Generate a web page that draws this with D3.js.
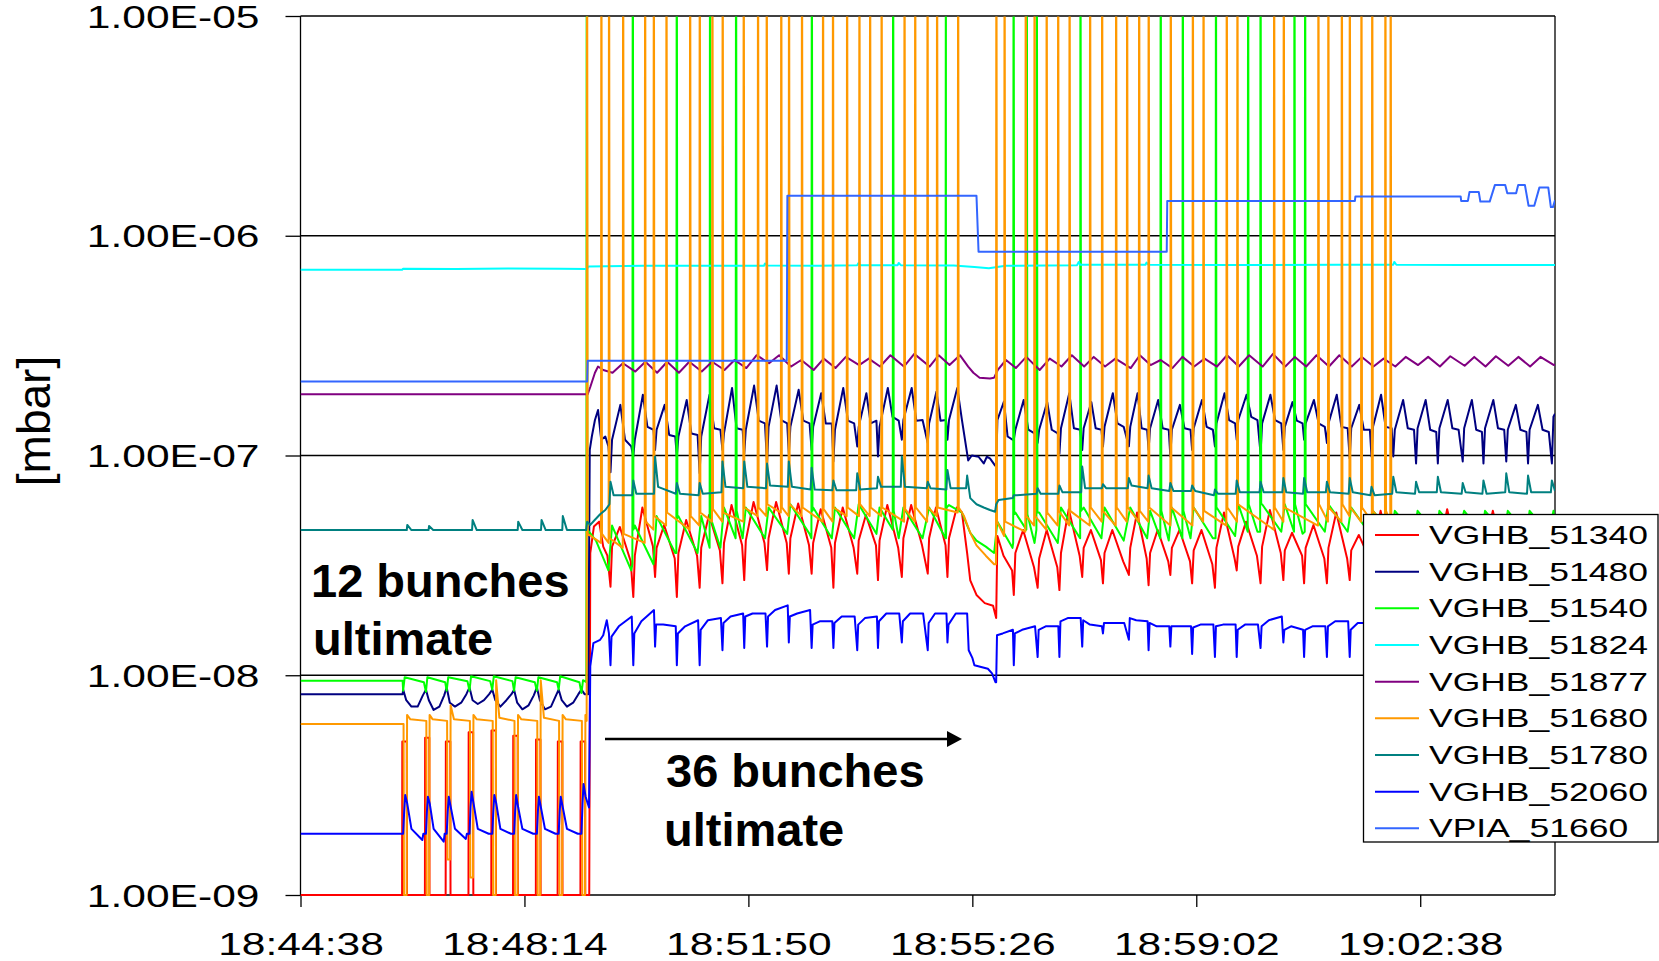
<!DOCTYPE html>
<html><head><meta charset="utf-8">
<script src="https://cdn.jsdelivr.net/npm/d3@7"></script>
<style>
html,body{margin:0;padding:0;background:#fff;}
svg{display:block;}
text{font-family:"Liberation Sans", Arial, Helvetica, sans-serif;fill:#000;}
</style></head><body>
<svg id="chart" width="1659" height="961"></svg>
<script>
// ================= DATA =================
const seriesNames  = ["VGHB_51340","VGHB_51480","VGHB_51540","VGHB_51824","VGHB_51877","VGHB_51680","VGHB_51780","VGHB_52060","VPIA_51660"];
const seriesColors = ["#ff0000","#000080","#00ff00","#00ffff","#800080","#ff9900","#008080","#0000ff","#3366ff"];
const yTickValues  = [1e-9, 1e-8, 1e-7, 1e-6, 1e-5];
const yTickLabels  = ["1.00E-09","1.00E-08","1.00E-07","1.00E-06","1.00E-05"];
const startClock   = "18:44:38";
const endClock     = "19:04:48";
const xTickLabels  = ["18:44:38","18:48:14","18:51:50","18:55:26","18:59:02","19:02:38"];
const yTitle = "[mbar]";
const notes = ["12 bunches","ultimate","36 bunches","ultimate"];
const FLOOR = 1e-9;      // gauge floor reading
const OFFSCALE = 1e-4;   // off-scale spike reading

// injection times (s after 18:44:38)
const inj12 = [99,121,141,163,185,206,228,249,271];
const inj36 = [299,321,342,363,385,407,428,450,471,493,514,537,557,580,605,624,671,688,711,732,754,774,799,818,839,860,882,903,926,948,968,990,1012,1033,1054,1076,1097,1121,1141,1163,1184,1207];

// shape timing inside one cycle (s after injection)
const OFF = {red12:[-1,-0.8,3.5,3.7], orange12:[0.4,0.8,3.4,3.8,7], green12:[0,1.5,20], navy12:[0,3,8,14,19],
  blue12:[0,1,2,4,8,18.5,19.5], red36:[0,1.5,9,19.5], navy36:[0,1.5,9.5,14,20], blue36:[0,1,8,20.5],
  teal36:[-1,0,3], purple36:[2,12], green36:[1.5,20]};

// ---- VGHB_51340 (red)
const red51340Start = [[0,1e-9]];
const red51340_12 = [[1e-9,5.0e-9,5.0e-9,1e-9],[1e-9,5.2e-9,5.2e-9,1e-9],[1e-9,5.0e-9,5.0e-9,1e-9],[1e-9,5.5e-9,5.5e-9,1e-9],[1e-9,5.6e-9,5.6e-9,1e-9],[1e-9,5.3e-9,5.3e-9,1e-9],[1e-9,5.1e-9,5.1e-9,1e-9],[1e-9,5.0e-9,5.0e-9,1e-9],[1e-9,5.0e-9,5.0e-9,1e-9]];
const red51340Trans = [[278.5,1e-9],[279.5,3.6e-8],[283,4.75e-8],[288,5.0e-8],[292,3.85e-8],[296,3.5e-8]];
const red51340_36 = [
 [2.53e-8,3.85e-8,4.73e-8,3.3e-8],[2.27e-8,3.5e-8,5.8e-8,3.85e-8],[2.8e-8,3.8e-8,4.83e-8,3.4e-8],[2.27e-8,3.6e-8,5.09e-8,3.5e-8],
 [2.5e-8,3.8e-8,5.36e-8,3.7e-8],[2.62e-8,4.0e-8,5.95e-8,3.9e-8],[2.71e-8,4.1e-8,6.15e-8,4.0e-8],[3.01e-8,4.2e-8,6.15e-8,4.0e-8],
 [2.9e-8,4.2e-8,6.05e-8,3.9e-8],[2.9e-8,4.0e-8,5.7e-8,3.8e-8],[2.5e-8,4.0e-8,5.8e-8,3.8e-8],[2.9e-8,4.1e-8,5.36e-8,3.9e-8],
 [2.71e-8,4.1e-8,5.95e-8,3.8e-8],[2.8e-8,4.2e-8,5.95e-8,3.9e-8],[2.9e-8,4.2e-8,5.8e-8,3.9e-8],[2.8e-8,4.2e-8,null,null],
 [1.82e-8,4.3e-8,3.5e-8,3.0e-8],[2.32e-8,3.6e-8,4.58e-8,3.1e-8],[2.5e-8,3.4e-8,4.58e-8,3.1e-8],[2.44e-8,3.6e-8,5.7e-8,3.5e-8],
 [2.8e-8,3.8e-8,4.58e-8,3.34e-8],[2.62e-8,3.6e-8,4.58e-8,3.3e-8],[2.86e-8,3.8e-8,5.5e-8,3.4e-8],[2.57e-8,3.6e-8,4.58e-8,3.3e-8],
 [2.86e-8,3.8e-8,4.58e-8,3.3e-8],[2.62e-8,3.7e-8,4.58e-8,3.2e-8],[2.5e-8,3.8e-8,5.5e-8,3.4e-8],[3.0e-8,3.85e-8,5.0e-8,3.5e-8],
 [2.62e-8,3.85e-8,5.65e-8,3.6e-8],[2.71e-8,3.7e-8,4.45e-8,3.5e-8],[2.62e-8,3.8e-8,4.83e-8,3.4e-8],[2.62e-8,3.8e-8,5.5e-8,3.4e-8],
 [2.71e-8,3.7e-8,4.35e-8,3.4e-8],[2.7e-8,3.8e-8,5.6e-8,3.5e-8],[2.6e-8,3.7e-8,4.9e-8,3.4e-8],[2.7e-8,3.8e-8,5.0e-8,3.5e-8],
 [2.6e-8,3.8e-8,5.7e-8,3.5e-8],[2.7e-8,3.7e-8,5.0e-8,3.4e-8],[2.6e-8,3.8e-8,5.6e-8,3.5e-8],[2.7e-8,3.7e-8,4.9e-8,3.4e-8],
 [2.6e-8,3.7e-8,4.8e-8,3.4e-8],[2.7e-8,3.7e-8,null,null]];
const red51340Gap = [[633,5.8e-8],[638,5.5e-8],[643,3.6e-8],[646,2.7e-8],[652,2.32e-8],[660,2.13e-8],[668,2.07e-8]];
const red51340End = [[1210,3.8e-8]];

// ---- VGHB_51480 (navy)
const navy51480Start = [[0,8.2e-9],[98.5,8.2e-9]];
const navy51480_12 = [[8.6e-9,7.7e-9,7.2e-9,7.2e-9,8.1e-9],[8.6e-9,7.7e-9,6.95e-9,7.2e-9,8.1e-9],[8.8e-9,7.5e-9,7.2e-9,7.5e-9,8.2e-9],
 [8.8e-9,7.7e-9,7.4e-9,7.7e-9,8.2e-9],[8.6e-9,7.7e-9,7.2e-9,7.7e-9,8.2e-9],[8.6e-9,7.5e-9,7.0e-9,7.3e-9,8.1e-9],
 [8.8e-9,7.7e-9,7.0e-9,7.2e-9,8.1e-9],[8.6e-9,7.7e-9,7.2e-9,7.5e-9,8.2e-9],[8.6e-9,8.2e-9,null,null,null]];
const navy51480Trans = [[277.5,8.2e-9],[279,1.06e-7],[281,1.22e-7],[284,1.45e-7],[287,1.61e-7],[290,1.18e-7],[294,1.22e-7],[297,1.10e-7]];
const navy51480_36 = [
 [8.4e-8,1.18e-7,1.70e-7,1.18e-7,1.10e-7],[9.9e-8,1.18e-7,1.89e-7,1.35e-7,1.31e-7],[1.06e-7,1.31e-7,1.70e-7,1.24e-7,1.22e-7],
 [9.9e-8,1.22e-7,1.79e-7,1.26e-7,1.24e-7],[8.3e-8,1.22e-7,1.89e-7,1.33e-7,1.31e-7],[1.06e-7,1.26e-7,2.03e-7,1.33e-7,1.31e-7],
 [1.02e-7,1.31e-7,2.08e-7,1.44e-7,1.40e-7],[9.2e-8,1.35e-7,2.08e-7,1.45e-7,1.40e-7],[1.02e-7,1.35e-7,1.99e-7,1.44e-7,1.40e-7],
 [1.06e-7,1.35e-7,1.92e-7,1.40e-7,1.40e-7],[9.4e-8,1.31e-7,2.03e-7,1.44e-7,1.40e-7],[1.10e-7,1.35e-7,1.92e-7,1.40e-7,1.44e-7],
 [9.9e-8,1.35e-7,2.03e-7,1.50e-7,1.44e-7],[1.18e-7,1.45e-7,2.03e-7,1.44e-7,1.45e-7],[1.14e-7,1.40e-7,1.95e-7,1.44e-7,1.45e-7],
 [1.18e-7,1.45e-7,2.03e-7,null,null],[8.9e-8,1.45e-7,1.76e-7,1.22e-7,1.18e-7],[1.18e-7,1.31e-7,1.79e-7,1.31e-7,1.26e-7],
 [1.14e-7,1.31e-7,1.75e-7,1.31e-7,1.26e-7],[1.02e-7,1.33e-7,1.92e-7,1.33e-7,1.31e-7],[1.06e-7,1.33e-7,1.75e-7,1.33e-7,1.31e-7],
 [1.10e-7,1.35e-7,1.92e-7,1.40e-7,1.35e-7],[1.10e-7,1.35e-7,1.92e-7,1.33e-7,1.31e-7],[1.06e-7,1.33e-7,1.79e-7,1.33e-7,1.31e-7],
 [9.9e-8,1.31e-7,1.70e-7,1.33e-7,1.31e-7],[1.06e-7,1.33e-7,1.79e-7,1.35e-7,1.31e-7],[1.10e-7,1.40e-7,1.92e-7,1.45e-7,1.40e-7],
 [1.18e-7,1.45e-7,1.89e-7,1.50e-7,1.45e-7],[1.02e-7,1.40e-7,1.89e-7,1.45e-7,1.40e-7],[1.06e-7,1.35e-7,1.75e-7,1.44e-7,1.40e-7],
 [1.18e-7,1.40e-7,1.79e-7,1.40e-7,1.35e-7],[1.14e-7,1.40e-7,1.89e-7,1.35e-7,1.33e-7],[9.7e-8,1.33e-7,1.70e-7,1.31e-7,1.31e-7],
 [9.9e-8,1.35e-7,1.89e-7,1.35e-7,1.33e-7],[9.9e-8,1.31e-7,1.79e-7,1.33e-7,1.31e-7],[9.2e-8,1.33e-7,1.79e-7,1.31e-7,1.28e-7],
 [9.2e-8,1.33e-7,1.79e-7,1.33e-7,1.31e-7],[9.4e-8,1.33e-7,1.79e-7,1.31e-7,1.28e-7],[9.2e-8,1.33e-7,1.79e-7,1.33e-7,1.31e-7],
 [9.4e-8,1.31e-7,1.70e-7,1.31e-7,1.28e-7],[9.2e-8,1.31e-7,1.70e-7,1.31e-7,1.28e-7],[9.2e-8,1.50e-7,null,null,null]];
const navy51480Gap = [[638,1.45e-7],[644,9.5e-8],[647.5,1.0e-7],[654,9.87e-8],[659,9.2e-8],[662,9.87e-8],[665,9.7e-8],[670,9.0e-8]];
const navy51480End = [[1210,1.55e-7]];

// ---- VGHB_51540 (green)
const green51540Start = [[0,9.45e-9],[98.5,9.45e-9]];
const green51540_12 = [[8.5e-9,9.8e-9,9.3e-9],[8.4e-9,9.8e-9,9.3e-9],[8.5e-9,9.8e-9,9.4e-9],[8.5e-9,9.9e-9,9.4e-9],[8.6e-9,9.9e-9,9.4e-9],
 [8.5e-9,9.8e-9,9.3e-9],[8.5e-9,9.8e-9,9.3e-9],[8.6e-9,9.9e-9,9.3e-9],[8.3e-9,9.5e-9,null]];
const green51540Trans = [[285,4.1e-8],[297,3.0e-8]];
const green51540_36 = [
 [4.8e-8,3.0e-8],[4.8e-8,3.2e-8],[5.3e-8,3.6e-8],[5.3e-8,3.6e-8],[5.3e-8,3.8e-8],[5.8e-8,4.2e-8],[5.8e-8,4.2e-8],[5.8e-8,4.4e-8],
 [6.0e-8,4.4e-8],[5.8e-8,4.2e-8],[5.8e-8,4.2e-8],[6.0e-8,4.4e-8],[5.8e-8,4.2e-8],[5.8e-8,4.2e-8],[5.8e-8,4.2e-8],[5.95e-8,null],
 [5.0e-8,3.8e-8],[5.5e-8,4.0e-8],[5.5e-8,4.0e-8],[5.8e-8,4.2e-8],[5.8e-8,4.2e-8],[5.8e-8,4.1e-8],[5.8e-8,4.2e-8],[5.6e-8,4.1e-8],
 [5.8e-8,4.2e-8],[5.8e-8,4.2e-8],[5.8e-8,4.3e-8],[6.0e-8,4.5e-8],[6.0e-8,4.5e-8],[6.0e-8,4.4e-8],[6.0e-8,4.5e-8],[6.0e-8,4.5e-8],
 [5.8e-8,4.4e-8],[5.6e-8,4.4e-8],[5.6e-8,4.4e-8],[5.6e-8,4.4e-8],[5.6e-8,4.4e-8],[5.6e-8,4.4e-8],[5.6e-8,4.4e-8],[5.6e-8,4.4e-8],
 [5.6e-8,4.4e-8],[5.6e-8,null]];
const green51540Spikes = [[276.1,9.3e-9,4.6e-8],[320.5,3.2e-8,4.6e-8],[362.9,3.6e-8,5.2e-8],[395,3.8e-8,5.2e-8],[420.1,4.2e-8,5.6e-8],
 [493.2,4.2e-8,5.6e-8],[571.6,4.6e-8,5.6e-8],[622.5,4.2e-8,5.8e-8],[687.8,4.0e-8,5.4e-8],[700.5,4.6e-8,5.4e-8],[710.2,4.6e-8,5.5e-8],
 [752.3,4.2e-8,5.6e-8],[829.7,4.2e-8,5.6e-8],[851,4.2e-8,5.6e-8],[883,4.2e-8,5.8e-8],[914,4.5e-8,6.0e-8],[926,4.5e-8,6.0e-8],
 [958.7,4.5e-8,6.0e-8],[969,4.5e-8,6.0e-8]];
const green51540Gap = [[638,5.5e-8],[646,4.45e-8],[652,4.1e-8],[661,3.85e-8],[669,3.6e-8]];
const green51540End = [[1210,4.5e-8]];

// ---- VGHB_51824 (cyan)
const cyan51824 = [[0,7.0e-7],[98,7.0e-7],[99,7.08e-7],[150,7.05e-7],[200,7.1e-7],[250,7.08e-7],[276,7.05e-7],[278,7.25e-7],[330,7.3e-7],
 [400,7.3e-7],[447,7.3e-7],[448,7.48e-7],[450,7.32e-7],[500,7.3e-7],[537,7.35e-7],[538,7.5e-7],[540,7.35e-7],[576,7.35e-7],[577,7.52e-7],
 [579,7.35e-7],[630,7.32e-7],[650,7.2e-7],[664,7.12e-7],[680,7.3e-7],[749,7.35e-7],[750.6,7.6e-7],[752,7.38e-7],[815,7.38e-7],[816,7.55e-7],
 [818,7.38e-7],[900,7.36e-7],[1000,7.38e-7],[1054,7.38e-7],[1055,7.6e-7],[1057,7.38e-7],[1120,7.36e-7],[1210,7.36e-7]];

// ---- VGHB_51877 (purple)
const purple51877Start = [[0,1.9e-7]];
const purple51877Trans = [[277,1.9e-7],[279.5,2.05e-7],[284,2.38e-7],[287,2.54e-7],[292,2.45e-7]];
const purple51877_36 = [
 [2.38e-7,2.63e-7],[2.41e-7,2.67e-7],[2.38e-7,2.67e-7],[2.38e-7,2.67e-7],[2.41e-7,2.67e-7],[2.45e-7,2.72e-7],[2.5e-7,2.86e-7],
 [2.63e-7,2.86e-7],[2.54e-7,2.72e-7],[2.45e-7,2.76e-7],[2.5e-7,2.81e-7],[2.58e-7,2.76e-7],[2.54e-7,2.86e-7],[2.54e-7,2.9e-7],
 [2.54e-7,2.86e-7],[2.58e-7,2.86e-7],[2.45e-7,2.72e-7],[2.5e-7,2.81e-7],[2.45e-7,2.76e-7],[2.54e-7,2.86e-7],[2.54e-7,2.81e-7],
 [2.54e-7,2.76e-7],[2.5e-7,2.86e-7],[2.58e-7,2.72e-7],[2.5e-7,2.81e-7],[2.54e-7,2.76e-7],[2.54e-7,2.86e-7],[2.54e-7,2.86e-7],
 [2.54e-7,2.9e-7],[2.54e-7,2.81e-7],[2.54e-7,2.86e-7],[2.54e-7,2.86e-7],[2.54e-7,2.81e-7],[2.54e-7,2.76e-7],[2.54e-7,2.81e-7],
 [2.58e-7,2.81e-7],[2.54e-7,2.83e-7],[2.56e-7,2.81e-7],[2.54e-7,2.83e-7],[2.56e-7,2.81e-7],[2.54e-7,2.81e-7],[2.58e-7,null]];
const purple51877Gap = [[644,2.54e-7],[649,2.38e-7],[655,2.26e-7],[665,2.24e-7],[669,2.26e-7]];
const purple51877End = [[1210,2.6e-7]];

// ---- VGHB_51680 (orange)
const orange51680Start = [[0,6.0e-9]];
const orange51680_12 = [[6.0e-9,1e-9,1e-9,6.6e-9,6.3e-9],[6.2e-9,1e-9,1e-9,6.6e-9,6.3e-9],[6.2e-9,1.45e-9,1.45e-9,7.3e-9,6.3e-9],
 [6.2e-9,1.2e-9,1.2e-9,6.6e-9,6.3e-9],[6.2e-9,1e-9,1e-9,9.5e-9,6.4e-9],[6.2e-9,1e-9,1e-9,6.6e-9,6.3e-9],
 [6.2e-9,1e-9,1e-9,9.5e-9,6.4e-9],[6.2e-9,1e-9,1e-9,6.6e-9,6.3e-9],[6.2e-9,1e-9,1e-9,6.6e-9,null]];
const orange51680Spikes = [[276.4,6.2e-9,4.4e-8],[290.2,4.0e-8,4.4e-8],[297.6,4.0e-8,4.2e-8],[311.2,3.8e-8,4.4e-8],[332.4,4.0e-8,5.0e-8],
 [340.8,4.6e-8,5.3e-8],[353.0,4.8e-8,5.5e-8],[375.8,4.6e-8,5.3e-8],[385.1,4.8e-8,5.5e-8],[397.3,5.0e-8,5.7e-8],[407.2,5.0e-8,5.5e-8],
 [427.5,5.0e-8,5.8e-8],[441.3,5.3e-8,5.8e-8],[449.7,5.3e-8,6.0e-8],[463.7,5.5e-8,5.8e-8],[471.2,5.3e-8,6.0e-8],[483.7,5.3e-8,5.8e-8],
 [504.0,5.0e-8,5.7e-8],[513.6,5.0e-8,5.8e-8],[527.2,5.3e-8,5.8e-8],[539.1,5.3e-8,6.0e-8],[549.4,5.3e-8,5.8e-8],[560.5,5.3e-8,5.8e-8],
 [582.6,5.0e-8,5.7e-8],[592.9,5.0e-8,5.8e-8],[604.8,5.0e-8,5.8e-8],[614.0,5.3e-8,5.8e-8],[634.3,5.5e-8,5.8e-8],[671.2,3.2e-8,5.0e-8],
 [679.1,4.3e-8,5.0e-8],[699.5,4.5e-8,5.3e-8],[708.0,4.8e-8,5.3e-8],[719.7,4.6e-8,5.5e-8],[730.8,4.8e-8,5.6e-8],[741.8,4.8e-8,5.6e-8],
 [761.6,4.8e-8,5.8e-8],[773.2,5.0e-8,5.6e-8],[786.7,4.8e-8,5.8e-8],[797.3,5.0e-8,5.8e-8],[808.9,5.0e-8,5.6e-8],[818.1,5.0e-8,5.8e-8],
 [839.4,4.8e-8,5.8e-8],[860.7,4.8e-8,5.8e-8],[871.0,5.0e-8,5.6e-8],[893.4,4.8e-8,5.8e-8],[903.7,5.0e-8,6.0e-8],[939.1,4.6e-8,5.8e-8],
 [948.4,5.0e-8,5.8e-8],[981.8,4.8e-8,6.0e-8],[991.4,5.0e-8,5.8e-8],[1004.4,5.0e-8,6.0e-8],[1012.1,5.3e-8,5.8e-8],[1023.3,5.0e-8,5.8e-8],
 [1033.7,5.0e-8,5.6e-8],[1046.4,4.8e-8,5.6e-8],[1051.5,5.0e-8,4.6e-8]];
const orange51680Gap = [[640,5.3e-8],[646,4.45e-8],[652,3.9e-8],[661,3.5e-8],[669,3.2e-8]];
const orange51680End = [[1210,4.5e-8]];

// ---- VGHB_51780 (teal)
const teal51780Base12 = 4.58e-8;
const teal51780Start = [[0,4.58e-8]];
const teal51780Bumps12 = [[103,4.83e-8],[124,4.78e-8],[166,5.09e-8],[210,5.0e-8],[232.5,5.09e-8],[253,5.3e-8]];
const teal51780Trans = [[275.5,4.58e-8],[276.5,5.0e-8],[279.5,4.83e-8],[284,5.1e-8],[289,5.4e-8],[294,5.65e-8]];
const teal51780_36 = [
 [6.0e-8,7.6e-8,6.6e-8],[6.6e-8,7.7e-8,6.7e-8],[6.7e-8,9.9e-8,7.2e-8],[6.7e-8,7.5e-8,6.7e-8],[6.6e-8,7.5e-8,6.7e-8],
 [6.8e-8,9.4e-8,7.2e-8],[7.1e-8,9.4e-8,7.2e-8],[7.1e-8,9.2e-8,7.3e-8],[7.2e-8,9.4e-8,7.2e-8],[7.0e-8,8.8e-8,7.0e-8],
 [6.95e-8,7.7e-8,6.95e-8],[6.95e-8,8.3e-8,7.0e-8],[7.1e-8,8.0e-8,7.2e-8],[7.2e-8,9.9e-8,7.2e-8],[7.1e-8,7.6e-8,7.1e-8],
 [7.0e-8,8.6e-8,7.1e-8],[5.55e-8,6.0e-8,6.27e-8],[6.4e-8,6.6e-8,6.6e-8],[6.7e-8,7.1e-8,6.7e-8],[6.7e-8,7.3e-8,6.8e-8],
 [6.8e-8,8.9e-8,7.1e-8],[7.1e-8,7.4e-8,7.1e-8],[7.1e-8,7.9e-8,7.3e-8],[7.1e-8,8.1e-8,7.1e-8],[6.9e-8,7.5e-8,6.9e-8],
 [6.9e-8,7.3e-8,6.9e-8],[6.6e-8,7.0e-8,6.7e-8],[6.7e-8,7.7e-8,6.8e-8],[6.8e-8,7.6e-8,6.8e-8],[6.8e-8,7.9e-8,6.8e-8],
 [6.7e-8,7.9e-8,6.8e-8],[6.8e-8,7.6e-8,6.8e-8],[6.7e-8,7.9e-8,6.8e-8],[6.6e-8,7.2e-8,6.6e-8],[6.7e-8,8.0e-8,6.8e-8],
 [6.7e-8,7.6e-8,6.8e-8],[6.8e-8,8.0e-8,6.8e-8],[6.7e-8,7.5e-8,6.8e-8],[6.7e-8,7.7e-8,6.7e-8],[6.8e-8,8.3e-8,6.8e-8],
 [6.7e-8,8.1e-8,6.8e-8],[6.8e-8,7.7e-8,6.9e-8]];
const teal51780Gap = [[642,7.1e-8],[643,8.1e-8],[646,6.4e-8],[652,6.0e-8],[659,5.8e-8],[665,5.65e-8]];

// ---- VGHB_52060 (blue)
const blue52060Start = [[0,1.9e-9]];
const blue52060_12 = [[1.9e-9,2.4e-9,2.85e-9,2.6e-9,2.0e-9,1.78e-9,1.9e-9],[1.9e-9,2.4e-9,2.8e-9,2.6e-9,2.0e-9,1.75e-9,1.9e-9],
 [1.9e-9,2.4e-9,2.8e-9,2.5e-9,2.0e-9,1.8e-9,1.9e-9],[1.9e-9,2.5e-9,2.95e-9,2.6e-9,2.0e-9,1.9e-9,1.9e-9],
 [1.9e-9,2.4e-9,2.85e-9,2.6e-9,2.0e-9,1.9e-9,1.9e-9],[1.9e-9,2.4e-9,2.85e-9,2.5e-9,2.0e-9,1.9e-9,1.9e-9],
 [1.9e-9,2.4e-9,2.8e-9,2.5e-9,2.0e-9,1.9e-9,1.9e-9],[1.9e-9,2.4e-9,2.8e-9,2.5e-9,2.0e-9,1.9e-9,1.9e-9],
 [1.9e-9,2.6e-9,3.2e-9,2.8e-9,null,null,null]];
const blue52060Trans = [[278.3,2.5e-9],[279.5,1.1e-8],[282.5,1.4e-8],[289,1.45e-8],[292,1.52e-8],[295.4,1.78e-8],[297.5,1.55e-8]];
const blue52060_36 = [
 [1.11e-8,1.5e-8,1.67e-8,1.85e-8],[1.11e-8,1.55e-8,1.76e-8,1.98e-8],[1.35e-8,1.7e-8,1.7e-8,1.67e-8],[1.11e-8,1.55e-8,1.67e-8,1.78e-8],
 [1.11e-8,1.61e-8,1.78e-8,1.82e-8],[1.3e-8,1.73e-8,1.85e-8,1.91e-8],[1.33e-8,1.85e-8,1.91e-8,1.91e-8],[1.35e-8,1.85e-8,1.98e-8,2.08e-8],
 [1.41e-8,1.85e-8,1.91e-8,1.98e-8],[1.33e-8,1.7e-8,1.76e-8,1.76e-8],[1.33e-8,1.73e-8,1.85e-8,1.85e-8],[1.3e-8,1.7e-8,1.82e-8,1.85e-8],
 [1.33e-8,1.76e-8,1.91e-8,1.91e-8],[1.41e-8,1.76e-8,1.91e-8,1.91e-8],[1.3e-8,1.73e-8,1.91e-8,1.91e-8],[1.41e-8,1.7e-8,1.91e-8,null],
 [9.3e-9,1.52e-8,1.55e-8,1.61e-8],[1.11e-8,1.55e-8,1.61e-8,1.67e-8],[1.21e-8,1.61e-8,1.67e-8,1.67e-8],[1.21e-8,1.76e-8,1.82e-8,1.82e-8],
 [1.35e-8,1.78e-8,1.7e-8,1.67e-8],[1.55e-8,1.73e-8,1.73e-8,1.73e-8],[1.45e-8,1.82e-8,1.78e-8,1.76e-8],[1.3e-8,1.73e-8,1.67e-8,1.67e-8],
 [1.35e-8,1.67e-8,1.67e-8,1.67e-8],[1.25e-8,1.65e-8,1.7e-8,1.7e-8],[1.21e-8,1.67e-8,1.7e-8,1.7e-8],[1.21e-8,1.61e-8,1.7e-8,1.7e-8],
 [1.33e-8,1.67e-8,1.78e-8,1.85e-8],[1.41e-8,1.61e-8,1.67e-8,1.61e-8],[1.21e-8,1.61e-8,1.67e-8,1.67e-8],[1.21e-8,1.67e-8,1.76e-8,1.76e-8],
 [1.21e-8,1.61e-8,1.73e-8,1.73e-8],[1.25e-8,1.65e-8,1.7e-8,1.7e-8],[1.25e-8,1.65e-8,1.7e-8,1.7e-8],[1.25e-8,1.65e-8,1.7e-8,1.7e-8],
 [1.25e-8,1.65e-8,1.7e-8,1.7e-8],[1.25e-8,1.65e-8,1.7e-8,1.7e-8],[1.25e-8,1.65e-8,1.7e-8,1.7e-8],[1.25e-8,1.65e-8,1.7e-8,1.7e-8],
 [1.25e-8,1.65e-8,1.7e-8,1.7e-8],[1.25e-8,1.65e-8,1.7e-8,1.7e-8]];
const blue52060Gap = [[643,1.91e-8],[644.5,1.3e-8],[648,1.2e-8],[650,1.11e-8],[663,1.07e-8],[667,1.02e-8],[670.3,9.3e-9]];

// ---- VPIA_51660 (light blue)
const vpia51660 = [[0,2.17e-7],[276.5,2.17e-7],[277,2.70e-7],[469,2.70e-7],[469.6,1.52e-6],[652,1.52e-6],[654,8.45e-7],[835.5,8.45e-7],
 [836,1.44e-6],[1017,1.44e-6],[1017.5,1.51e-6],[1119,1.51e-6],[1119.5,1.44e-6],[1126,1.44e-6],[1127.5,1.58e-6],[1136.5,1.58e-6],
 [1138,1.43e-6],[1147,1.43e-6],[1152,1.70e-6],[1162,1.70e-6],[1164,1.56e-6],[1172.5,1.56e-6],[1174.5,1.70e-6],[1181,1.70e-6],
 [1184.5,1.37e-6],[1190,1.37e-6],[1195,1.66e-6],[1203.5,1.66e-6],[1206,1.35e-6],[1208,1.35e-6],[1210,1.45e-6]];

// ================= BUILD =================
const secOf = s => { const [h,m,x] = s.split(":").map(Number); return h*3600+m*60+x; };
const t0 = secOf(startClock), tEnd = secOf(endClock) - t0;
const PERIOD = 21.6;
function cyc(times, tuples, offs){
  const out=[];
  times.forEach((T,i)=>{
    const tp=tuples[i]; if(!tp) return;
    const N = i+1<times.length ? times[i+1] : Infinity;
    const k = Math.min(1,(N-T)/PERIOD);
    offs.forEach((d,j)=>{ if(tp[j]!=null) out.push([T+(d>0?d*k:d), tp[j]]); });
  });
  return out;
}
function spikes(list){ const o=[]; list.forEach(([t,b,a])=>{ o.push([t-0.4,b],[t,OFFSCALE],[t+0.6,a]); }); return o; }
function bumps(list, base){ const o=[]; list.forEach(([t,v])=>{ o.push([t-0.5,base],[t,v],[t+4,base]); }); return o; }
const srt = a => a.sort((p,q)=>p[0]-q[0]);

const sRed = srt([...red51340Start, ...cyc(inj12, red51340_12, OFF.red12), ...red51340Trans, ...cyc(inj36, red51340_36, OFF.red36), ...red51340Gap, ...red51340End]);
const sNavy = srt([...navy51480Start, ...cyc(inj12, navy51480_12, OFF.navy12), ...navy51480Trans, ...cyc(inj36, navy51480_36, OFF.navy36), ...navy51480Gap, ...navy51480End]);
const sGreen = srt([...green51540Start, ...cyc(inj12, green51540_12, OFF.green12), ...green51540Trans, ...cyc(inj36, green51540_36, OFF.green36), ...spikes(green51540Spikes), ...green51540Gap, ...green51540End]);
const sCyan = cyan51824;
const sPurple = srt([...purple51877Start, ...purple51877Trans, ...cyc(inj36, purple51877_36, OFF.purple36), ...purple51877Gap, ...purple51877End]);
const sOrange = srt([...orange51680Start, ...cyc(inj12, orange51680_12, OFF.orange12), ...spikes(orange51680Spikes), ...orange51680Gap, ...orange51680End]);
const sTeal = srt([...teal51780Start, ...bumps(teal51780Bumps12, teal51780Base12), ...teal51780Trans, ...cyc(inj36, teal51780_36, OFF.teal36), ...teal51780Gap]);
const sBlue = srt([...blue52060Start, ...cyc(inj12, blue52060_12, OFF.blue12), ...blue52060Trans, ...cyc(inj36, blue52060_36, OFF.blue36), ...blue52060Gap]);
const sVpia = vpia51660;
const seriesData = [sRed, sNavy, sGreen, sCyan, sPurple, sOrange, sTeal, sBlue, sVpia];

// ================= DRAW =================
const W=1659, H=961;
const P = {left:300.5, right:1555, top:16, bottom:895};
const svg = d3.select("#chart");
svg.append("rect").attr("width",W).attr("height",H).attr("fill","#fff");
const x = d3.scaleLinear().domain([0,tEnd]).range([P.left,P.right]);
const y = d3.scaleLog().domain([yTickValues[0], yTickValues[yTickValues.length-1]]).range([P.bottom,P.top]);

svg.append("defs").append("clipPath").attr("id","pc").append("rect")
  .attr("x",P.left).attr("y",P.top+0.6).attr("width",P.right-P.left).attr("height",P.bottom-P.top+1.6);

// gridlines
svg.append("g").selectAll("line").data(yTickValues.slice(1)).join("line")
  .attr("x1",P.left).attr("x2",P.right).attr("y1",d=>y(d)).attr("y2",d=>y(d))
  .attr("stroke","#000").attr("stroke-width",1.3);

// axes
const yAxis = d3.axisLeft(y).tickValues(yTickValues).tickFormat((d,i)=>yTickLabels[i]).tickSize(15);
const gy = svg.append("g").attr("transform",`translate(${P.left},0)`).call(yAxis);
gy.select(".domain").remove();
gy.selectAll(".tick line").attr("stroke","#000").attr("stroke-width",1.3);
gy.selectAll(".tick text").attr("x",0).attr("dy",null).attr("y",11)
  .attr("transform","translate(-41,0) scale(1.33,1)").attr("text-anchor","end")
  .attr("font-size",32).attr("font-family","Liberation Sans, Arial, sans-serif").attr("fill","#000");

const xTickVals = xTickLabels.map(s=>secOf(s)-t0);
const xAxis = d3.axisBottom(x).tickValues(xTickVals).tickFormat((d,i)=>xTickLabels[i]).tickSize(12);
const gx = svg.append("g").attr("transform",`translate(0,${P.bottom})`).call(xAxis);
gx.select(".domain").remove();
gx.selectAll(".tick line").attr("stroke","#000").attr("stroke-width",1.3);
gx.selectAll(".tick text").attr("dy",null).attr("y",60).attr("transform","scale(1.33,1)")
  .attr("text-anchor","middle").attr("font-size",32).attr("font-family","Liberation Sans, Arial, sans-serif").attr("fill","#000");

// frame
const frame = svg.append("g").attr("stroke","#000").attr("stroke-width",1.3);
frame.append("line").attr("x1",P.left).attr("x2",P.left).attr("y1",P.top).attr("y2",P.bottom);
frame.append("line").attr("x1",P.right).attr("x2",P.right).attr("y1",P.top).attr("y2",P.bottom);
frame.append("line").attr("x1",P.left).attr("x2",P.right).attr("y1",P.bottom).attr("y2",P.bottom);

// series
const line = d3.line().x(d=>x(d[0])).y(d=>y(d[1]));
const gs = svg.append("g").attr("clip-path","url(#pc)");
seriesData.forEach((data,i)=>{
  gs.append("path").datum(data).attr("d",line).attr("fill","none")
    .attr("stroke",seriesColors[i]).attr("stroke-width",2).attr("stroke-linejoin","round");
});

// y title
svg.append("text").attr("transform","translate(50,421) rotate(-90)").attr("text-anchor","middle")
  .attr("font-size",46).text(yTitle);

// annotations
const ann = svg.append("g").attr("font-size",47).attr("font-weight","bold");
ann.append("text").attr("x",311).attr("y",597).text(notes[0]);
ann.append("text").attr("x",313).attr("y",655).text(notes[1]);
ann.append("text").attr("x",666).attr("y",787).text(notes[2]);
ann.append("text").attr("x",664).attr("y",846).text(notes[3]);
svg.append("line").attr("x1",605).attr("x2",950).attr("y1",739).attr("y2",739).attr("stroke","#000").attr("stroke-width",2.7);
svg.append("path").attr("d","M947,731 L962,739 L947,747 Z").attr("fill","#000");

// legend
const lg = svg.append("g");
lg.append("rect").attr("x",1363.5).attr("y",514.5).attr("width",294.5).attr("height",327.5)
  .attr("fill","#fff").attr("stroke","#000").attr("stroke-width",1.3);
seriesNames.forEach((n,i)=>{
  const cy = 535 + i*36.67;
  lg.append("line").attr("x1",1375).attr("x2",1419).attr("y1",cy).attr("y2",cy)
    .attr("stroke",seriesColors[i]).attr("stroke-width",2);
  lg.append("text").attr("transform",`translate(1429,${cy+9}) scale(1.365,1)`).attr("font-size",26).text(n);
});
</script>
</body></html>
